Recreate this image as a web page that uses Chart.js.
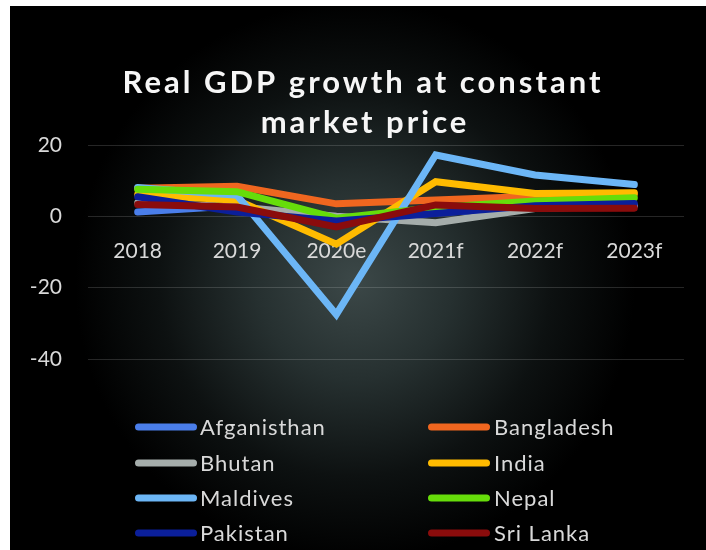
<!DOCTYPE html>
<html>
<head>
<meta charset="utf-8">
<script src="https://cdn.jsdelivr.net/npm/chart.js@4/dist/chart.umd.min.js"></script>
<style>
  html, body { margin: 0; padding: 0; background: #ffffff; }
  #panel { position: absolute; left: 10px; top: 6px; width: 696px; height: 544px; }
</style>
</head>
<body>
<div id="panel"><canvas id="gdp" width="696" height="544"></canvas></div>
<script>
// Real GDP growth (%) by country and year
const categories = ['2018', '2019', '2020e', '2021f', '2022f', '2023f'];
const afghanistan = [1.2, 3.0, -2.0, 1.0, 2.5, 3.0];
const bangladesh  = [7.9, 8.4, 3.5, 4.6, 5.6, 6.2];
const bhutan      = [3.8, 2.7, 0.0, -1.8, 2.2, 3.0];
const india       = [6.1, 4.5, -7.8, 9.7, 6.4, 6.6];
const maldives    = [8.1, 5.9, -27.5, 17.2, 11.6, 8.9];
const nepal       = [7.6, 6.9, -0.5, 2.5, 4.3, 5.2];
const pakistan    = [5.5, 1.2, -1.3, 0.8, 3.0, 3.6];
const sriLanka    = [3.3, 2.6, -3.0, 3.2, 2.2, 2.3];
const yTicks      = [20, 0, -20, -40];

const seriesNames  = ['Afganisthan', 'Bangladesh', 'Bhutan', 'India', 'Maldives', 'Nepal', 'Pakistan', 'Sri Lanka'];
const seriesValues = [afghanistan, bangladesh, bhutan, india, maldives, nepal, pakistan, sriLanka];
const seriesColors = ['#4a7eea', '#f0661f', '#a5adab', '#ffbb00', '#6cb6f6', '#66dd0a', '#0b1f9a', '#8a0c0c'];

const titleLines = ['Real GDP growth at constant', 'market price'];
const FONT = 'Lato, "Open Sans", sans-serif';

// Later series sit on top of earlier ones
const datasets = seriesNames.map((name, i) => ({
  label: name,
  data: seriesValues[i],
  borderColor: seriesColors[i],
  backgroundColor: seriesColors[i],
  borderWidth: 7,
  borderCapStyle: 'round',
  borderJoinStyle: 'miter',
  pointRadius: 0,
  pointHoverRadius: 0,
  tension: 0,
  fill: false,
  order: seriesNames.length - 1 - i
}));

// Dark panel with a soft central glow
const backdrop = {
  id: 'backdrop',
  beforeDraw(chart) {
    const { ctx, width, height } = chart;
    ctx.save();
    ctx.fillStyle = '#000000';
    ctx.fillRect(0, 0, width, height);
    const g = ctx.createRadialGradient(345, 275, 0, 345, 275, 280);
    g.addColorStop(0, 'rgba(60,72,72,1)');
    g.addColorStop(0.35, 'rgba(38,48,48,1)');
    g.addColorStop(0.7, 'rgba(13,17,17,1)');
    g.addColorStop(1, 'rgba(0,0,0,1)');
    ctx.fillStyle = g;
    ctx.fillRect(0, 0, width, height);
    ctx.restore();
  }
};

// Two-line spaced title
const spacedTitle = {
  id: 'spacedTitle',
  afterDraw(chart) {
    const { ctx } = chart;
    ctx.save();
    ctx.fillStyle = '#f6f6f6';
    ctx.font = 'bold 31px ' + FONT;
    ctx.textAlign = 'center';
    ctx.textBaseline = 'alphabetic';
    ctx.letterSpacing = '3px';
    ctx.fillText(titleLines[0], 353, 87);
    ctx.fillText(titleLines[1], 355, 127);
    ctx.restore();
  }
};

// Legend laid out in two columns
const gridLegend = {
  id: 'gridLegend',
  afterDraw(chart) {
    const { ctx } = chart;
    const cols = [{ x1: 125, x2: 187, tx: 190 }, { x1: 418, x2: 480, tx: 484 }];
    const rows = [421, 457, 492, 527];
    ctx.save();
    ctx.font = '22px ' + FONT;
    ctx.letterSpacing = '1px';
    ctx.textBaseline = 'middle';
    ctx.textAlign = 'left';
    chart.data.datasets.forEach((ds, i) => {
      const c = cols[i % 2];
      const y = rows[Math.floor(i / 2)];
      ctx.strokeStyle = ds.borderColor;
      ctx.lineWidth = 7;
      ctx.lineCap = 'round';
      ctx.beginPath();
      ctx.moveTo(c.x1 + 3.5, y);
      ctx.lineTo(c.x2 - 3.5, y);
      ctx.stroke();
      ctx.fillStyle = '#d9d9d9';
      ctx.fillText(ds.label, c.tx, y + 1);
    });
    ctx.restore();
  }
};

new Chart(document.getElementById('gdp'), {
  type: 'line',
  data: { labels: categories, datasets },
  options: {
    responsive: false,
    animation: false,
    devicePixelRatio: 1,
    layout: { padding: { top: 139, bottom: 191, left: 0, right: 22 } },
    plugins: {
      legend: { display: false },
      title: { display: false },
      tooltip: { enabled: false }
    },
    scales: {
      x: {
        type: 'category',
        position: { y: 0 },
        offset: true,
        grid: { display: false, drawTicks: false },
        border: { display: false },
        ticks: {
          color: '#d9d9d9',
          font: { family: FONT, size: 21 },
          padding: 22,
          maxRotation: 0,
          autoSkip: false
        }
      },
      y: {
        min: -40,
        max: 20,
        afterBuildTicks(scale) { scale.ticks = yTicks.map(v => ({ value: v })); },
        afterFit(scale) { scale.width = 78; },
        grid: { color: 'rgba(255,255,255,0.15)', lineWidth: 1, drawTicks: false },
        border: { display: false },
        ticks: {
          color: '#d9d9d9',
          font: { family: FONT, size: 21 },
          padding: 26
        }
      }
    }
  },
  plugins: [backdrop, spacedTitle, gridLegend]
});
</script>
</body>
</html>
